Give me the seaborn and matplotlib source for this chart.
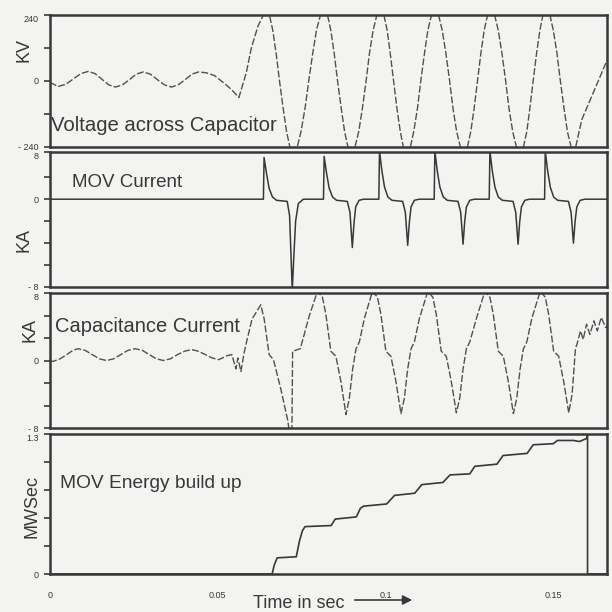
import matplotlib
matplotlib.use("Agg")
import matplotlib.pyplot as plt
import seaborn as sns

# values (time in sec)
volt_t = [0.0000, 0.0024, 0.0047, 0.0069, 0.0092, 0.0114, 0.0134, 0.0155, 0.0175, 0.0195,
          0.0216, 0.0237, 0.0257, 0.0278, 0.0299, 0.0320, 0.0341, 0.0362, 0.0382, 0.0403,
          0.0423, 0.0443, 0.0465, 0.0490, 0.0518, 0.0540, 0.0563, 0.0585, 0.0600, 0.0620, 0.0644,
          0.0654, 0.0664, 0.0674, 0.0684, 0.0695, 0.0705, 0.0715, 0.0725,
          0.0737, 0.0748, 0.0760, 0.0771, 0.0783, 0.0794, 0.0806, 0.0817,
          0.0827, 0.0837, 0.0847, 0.0857, 0.0868, 0.0878, 0.0888, 0.0898,
          0.0909, 0.0920, 0.0931, 0.0942, 0.0952, 0.0963, 0.0974, 0.0985,
          0.0995, 0.1005, 0.1014, 0.1024, 0.1034, 0.1044, 0.1053, 0.1063,
          0.1074, 0.1084, 0.1095, 0.1105, 0.1116, 0.1126, 0.1137, 0.1147,
          0.1158, 0.1169, 0.1180, 0.1191, 0.1201, 0.1212, 0.1223, 0.1234,
          0.1244, 0.1254, 0.1264, 0.1274, 0.1284, 0.1294, 0.1304, 0.1314,
          0.1325, 0.1336, 0.1347, 0.1358, 0.1368, 0.1379, 0.1390, 0.1401,
          0.1411, 0.1421, 0.1430, 0.1440, 0.1450, 0.1460, 0.1469, 0.1479,
          0.1490, 0.1500, 0.1511, 0.1521, 0.1532, 0.1542, 0.1553, 0.1563,
          0.1585, 0.1620, 0.1660]
volt_kv = [-5, -20, -12, 7, 27, 35, 27, 6, -14, -22,
           -14, 5, 25, 33, 25, 5, -14, -22, -14, 5,
           25, 33, 30, 20, -7, -30, -60, 30, 120, 200, 260,
           240, 184, 100, 0, -100, -184, -240, -260,
           -240, -184, -100, 0, 100, 184, 240, 260,
           240, 184, 100, 0, -100, -184, -240, -260,
           -240, -184, -100, 0, 100, 184, 240, 260,
           240, 184, 100, 0, -100, -184, -240, -260,
           -240, -184, -100, 0, 100, 184, 240, 260,
           240, 184, 100, 0, -100, -184, -240, -260,
           -240, -184, -100, 0, 100, 184, 240, 260,
           240, 184, 100, 0, -100, -184, -240, -260,
           -240, -184, -100, 0, 100, 184, 240, 260,
           240, 184, 100, 0, -100, -184, -240, -260,
           -140, -40, 75]

mov_t = [0.0000, 0.0636, 0.0638, 0.0645, 0.0653, 0.0663, 0.0675, 0.0707, 0.0714, 0.0722, 0.0727, 0.0732, 0.0740, 0.0755,
         0.0815, 0.0817, 0.0824, 0.0832, 0.0842, 0.0854, 0.0886, 0.0894, 0.0901, 0.0906, 0.0911, 0.0921, 0.0935,
         0.0980, 0.0982, 0.0989, 0.0997, 0.1007, 0.1019, 0.1051, 0.1059, 0.1066, 0.1071, 0.1076, 0.1086, 0.1100,
         0.1145, 0.1147, 0.1154, 0.1162, 0.1172, 0.1184, 0.1216, 0.1224, 0.1231, 0.1236, 0.1241, 0.1251, 0.1265,
         0.1309, 0.1311, 0.1318, 0.1326, 0.1336, 0.1348, 0.1380, 0.1388, 0.1395, 0.1400, 0.1405, 0.1415, 0.1429,
         0.1474, 0.1476, 0.1483, 0.1491, 0.1501, 0.1513, 0.1545, 0.1553, 0.1560, 0.1565, 0.1570, 0.1580, 0.1594,
         0.1660]
mov_ka = [0, 0, 3.8, 2.4, 1.0, 0.2, -0.1, -0.2, -1.5, -8.3, -5.0, -2.0, -0.4, 0,
          0, 3.9, 2.4, 1.0, 0.2, -0.1, -0.2, -1.2, -4.4, -2.2, -0.7, -0.1, 0,
          0, 4.4, 2.6, 1.1, 0.2, -0.1, -0.2, -1.2, -4.2, -2.1, -0.7, -0.1, 0,
          0, 4.4, 2.6, 1.1, 0.2, -0.1, -0.2, -1.2, -4.1, -2.0, -0.7, -0.1, 0,
          0, 4.4, 2.6, 1.1, 0.2, -0.1, -0.2, -1.2, -4.1, -2.0, -0.7, -0.1, 0,
          0, 4.4, 2.6, 1.1, 0.2, -0.1, -0.2, -1.2, -4.0, -2.0, -0.7, -0.1, 0,
          0]

cap_t = [0.0000, 0.0010, 0.0030, 0.0050, 0.0068, 0.0084, 0.0105, 0.0126, 0.0147, 0.0168,
         0.0190, 0.0211, 0.0232, 0.0254, 0.0275, 0.0296, 0.0317, 0.0338, 0.0359, 0.0380,
         0.0401, 0.0422, 0.0442, 0.0463, 0.0483, 0.0503, 0.0530, 0.0542, 0.0554, 0.0560,
         0.0569, 0.0578, 0.0584, 0.0602, 0.0628, 0.0638, 0.0653, 0.0666, 0.0688, 0.0708,
         0.0713, 0.0721, 0.0723, 0.0746, 0.0772, 0.0797,
         0.0812, 0.0822, 0.0832, 0.0837, 0.0852, 0.0867, 0.0882, 0.0892, 0.0902, 0.0912, 0.0922, 0.0937, 0.0961,
         0.0976, 0.0986, 0.0996, 0.1001, 0.1016, 0.1031, 0.1046, 0.1056, 0.1066, 0.1076, 0.1086, 0.1101, 0.1126,
         0.1141, 0.1151, 0.1161, 0.1166, 0.1181, 0.1196, 0.1211, 0.1221, 0.1231, 0.1241, 0.1251, 0.1271, 0.1296,
         0.1311, 0.1321, 0.1331, 0.1336, 0.1351, 0.1366, 0.1381, 0.1391, 0.1401, 0.1411, 0.1421, 0.1436, 0.1461,
         0.1476, 0.1486, 0.1496, 0.1501, 0.1516, 0.1531, 0.1546, 0.1556, 0.1566,
         0.1571, 0.1581, 0.1589, 0.1599, 0.1609, 0.1621, 0.1631, 0.1643, 0.1656, 0.1670]
cap_ka = [-0.05, -0.1, 0.2, 0.7, 1.2, 1.4, 1.2, 0.7, 0.2, 0.0,
          0.2, 0.7, 1.2, 1.4, 1.2, 0.7, 0.2, 0.0, 0.2, 0.7,
          1.1, 1.3, 1.1, 0.7, 0.3, 0.1, 0.6, 0.7, -1.0, 0.3,
          -1.3, 0.8, 1.9, 4.9, 6.6, 5.0, 0.7, 0.1, -3.4, -7.0,
          -8.3, -8.3, 1.1, 1.4, 5.2, 8.2,
          7.5, 5.5, 2.6, 1.1, 0.5, -2.5, -6.4, -4.5, -1.0, 1.4, 2.2, 5.0, 8.2,
          7.5, 5.5, 2.6, 1.1, 0.5, -2.5, -6.3, -4.5, -1.0, 1.4, 2.2, 5.0, 8.2,
          7.5, 5.5, 2.6, 1.1, 0.5, -2.5, -6.2, -4.5, -1.0, 1.4, 2.2, 5.0, 8.2,
          7.5, 5.5, 2.6, 1.1, 0.5, -2.5, -6.3, -4.5, -1.0, 1.4, 2.2, 5.0, 8.2,
          7.5, 5.5, 2.6, 1.1, 0.5, -2.5, -6.2, -4.0, 1.4,
          2.0, 3.5, 2.5, 4.3, 3.1, 4.7, 3.5, 5.1, 3.9, 4.5]

energy_t = [0.0000, 0.0662, 0.0668, 0.0677, 0.0734, 0.0743, 0.0752, 0.0760, 0.0838, 0.0850,
            0.0913, 0.0925, 0.0934, 0.1003, 0.1027, 0.1087, 0.1108, 0.1171, 0.1192, 0.1251,
            0.1266, 0.1332, 0.1350, 0.1422, 0.1440, 0.1500, 0.1512, 0.1560, 0.1578, 0.1600,
            0.1602, 0.1602, 0.1660]
energy_mws = [0, 0, 0.08, 0.15, 0.16, 0.30, 0.40, 0.44, 0.45, 0.51,
              0.53, 0.61, 0.63, 0.65, 0.73, 0.75, 0.83, 0.85, 0.92, 0.93,
              1.00, 1.02, 1.10, 1.12, 1.20, 1.21, 1.24, 1.24, 1.23, 1.26,
              1.30, 0, 0]

panel_titles = ["Voltage across Capacitor", "MOV Current", "Capacitance Current", "MOV Energy build up"]
unit_labels = ["KV", "KA", "KA", "MWSec"]
x_ticks = [0, 0.05, 0.1, 0.15]
x_tick_labels = ["0", "0.05", "0.1", "0.15"]

sns.set_style("ticks")
plt.rcParams["font.family"] = ["Liberation Sans", "DejaVu Sans"]

ink = "#383838"
paper = "#f3f3f1"

fig = plt.figure(figsize=(6.12, 6.12), dpi=100, facecolor=paper)
W = H = 612.0


def add_panel(top, bottom):
    return fig.add_axes([50 / W, 1 - bottom / H, 557 / W, (bottom - top) / H], facecolor=paper)


ax1 = add_panel(15, 147)
ax2 = add_panel(152, 287)
ax3 = add_panel(293, 428)
ax4 = add_panel(434, 574)

dash = (0, (5, 1.6))
sns.lineplot(x=volt_t, y=volt_kv, ax=ax1, sort=False, estimator=None, color="#505050", lw=1.0, linestyle=dash)
sns.lineplot(x=mov_t, y=mov_ka, ax=ax2, sort=False, estimator=None, color=ink, lw=1.1)
sns.lineplot(x=cap_t, y=cap_ka, ax=ax3, sort=False, estimator=None, color="#505050", lw=1.0, linestyle=dash)
sns.lineplot(x=energy_t, y=energy_mws, ax=ax4, sort=False, estimator=None, color=ink, lw=1.2)

ax1.set_ylim(-240, 240)
ax1.set_yticks([-240, -120, 0, 120, 240])
ax1.set_yticklabels(["- 240", "", "0", "", "240"])

ax2.set_ylim(-8, 4.3)
ax2.set_yticks([-8, -6, -4, -2, 0, 2, 4.3])
ax2.set_yticklabels(["- 8", "", "", "", "0", "", "8"])

ax3.set_ylim(-8, 8)
ax3.set_yticks([-8, -16 / 3, -8 / 3, 0, 8 / 3, 16 / 3, 8])
ax3.set_yticklabels(["- 8", "", "", "0", "", "", "8"])

ax4.set_ylim(0, 1.3)
ax4.set_yticks([0, 0.26, 0.52, 0.78, 1.04, 1.3])
ax4.set_yticklabels(["0", "", "", "", "", "1.3"])

for ax in (ax1, ax2, ax3, ax4):
    ax.set_xlim(0, 0.166)
    ax.set_xticks(x_ticks)
    ax.set_xlabel("")
    ax.set_ylabel("")
    for sp in ax.spines.values():
        sp.set_visible(True)
        sp.set_linewidth(1.8)
        sp.set_color(ink)
    ax.tick_params(axis="y", direction="out", length=4, width=1.2, color=ink,
                   labelsize=6.5, labelcolor=ink, pad=4)
    ax.tick_params(axis="x", direction="out", length=0, labelsize=6.5, labelcolor=ink, pad=12)
    if ax is not ax4:
        ax.set_xticklabels([])
    # keep the top label inside its panel so it does not sit on the one above
    ax.get_yticklabels()[-1].set_verticalalignment("top")
ax4.set_xticklabels(x_tick_labels)

# panel captions
captions_xy = [(51, 126), (72, 182), (55, 327), (60, 483)]
captions_size = [14.6, 13.5, 14.5, 13.8]
for text, (px, py), fs in zip(panel_titles, captions_xy, captions_size):
    fig.text(px / W, 1 - py / H, text, ha="left", va="center", fontsize=fs, color=ink)

# y-axis units
for text, (px, py) in zip(unit_labels, [(24, 50), (24, 240), (30, 330), (32, 507)]):
    fig.text(px / W, 1 - py / H, text, ha="center", va="center", rotation=90, fontsize=13, color=ink)

# time axis label with arrow
fig.text(253 / W, 1 - 603 / H, "Time in sec", ha="left", va="center", fontsize=13, color=ink)
ax4.annotate("", xy=(415 / W, 1 - 600 / H), xytext=(352 / W, 1 - 600 / H),
             xycoords="figure fraction", textcoords="figure fraction",
             arrowprops=dict(arrowstyle="-|>", color=ink, lw=1.2, mutation_scale=14))

fig.savefig("out.png", dpi=100, facecolor=paper)
